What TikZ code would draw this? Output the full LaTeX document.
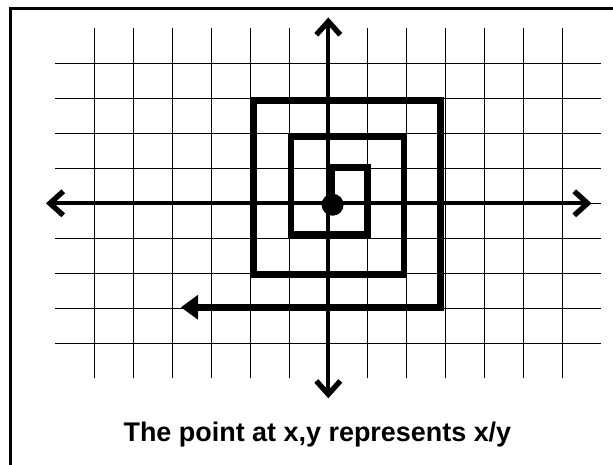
\documentclass[tikz,border=0pt]{standalone}
\usepackage{fontspec}
\setmainfont{Liberation Sans}
\usepackage{tikz}
\usetikzlibrary{arrows.meta}

\begin{document}
\begin{tikzpicture}[x=29.25pt,y=26.25pt,
	gridline/.style={black,line width=1.05pt},
	axe/.style={{Straight Barb[length=10pt,width=18pt,line width=4pt]}-{Straight Barb[length=10pt,width=18pt,line width=4pt]},line width=2.9pt},
	spirale/.style={-{Triangle[length=13pt,width=18pt]},line width=4.9pt},
	legende/.style={font=\fontsize{20.2}{24}\selectfont\bfseries}]
	\clip (-8.418,-7.448) rectangle (7.300,5.809);
	\draw[line width=2.1pt] (-8.149,5.566) rectangle (8,-8);
	
	\foreach \i in {-6,...,6}
		\draw[gridline] (\i,-5) -- (\i,5);
	\foreach \j in {-4,...,4}
		\draw[gridline] (-7,\j) -- (7,\j);
	
	\coordinate (xg) at (-7.24,0);
	\coordinate (xd) at (6.75,0);
	\coordinate (yb) at (0,-5.57);
	\coordinate (yh) at (0,5.31);
	\draw[axe] (xg) -- (xd);
	\draw[axe] (yb) -- (yh);
	
	\node[circle,fill,inner sep=0pt,minimum size=16.5pt] (pt) at (0.11,-0.04){};
	\draw[spirale] (0.1,-0.04) -- (0.1,1.02) -- (1.01,1.02) -- (1.01,-0.89)
		-- (-0.96,-0.89) -- (-0.96,1.9) -- (1.94,1.9) -- (1.94,-2.03)
		-- (-1.9,-2.03) -- (-1.9,2.94) -- (2.87,2.94) -- (2.87,-2.97)
		-- (-3.78,-2.97);
	
	\node[legende,anchor=base] (leg) at (-0.28,-6.81){The point at x,y represents x/y};
\end{tikzpicture}
\end{document}
